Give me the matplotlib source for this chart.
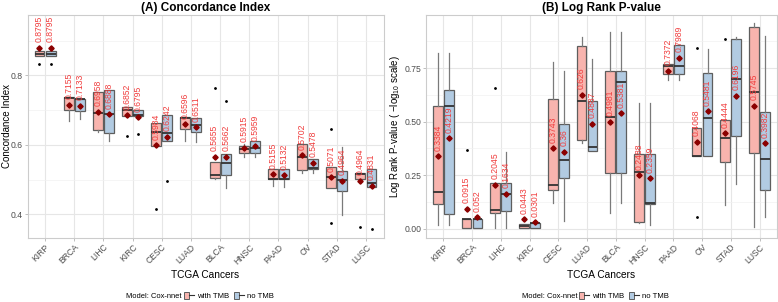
import numpy as np
import matplotlib
matplotlib.use('Agg')
import matplotlib.pyplot as plt
from matplotlib.patches import Patch
from matplotlib.lines import Line2D
from matplotlib.legend_handler import HandlerTuple

plt.rcParams['font.family'] = ['Liberation Sans', 'DejaVu Sans']
plt.rcParams['mathtext.fontset'] = 'custom'
plt.rcParams['mathtext.rm'] = 'Liberation Sans'
plt.rcParams['mathtext.it'] = 'Liberation Sans:italic'

cancers = ['KIRP', 'BRCA', 'LIHC', 'KIRC', 'CESC', 'LUAD', 'BLCA', 'HNSC', 'PAAD', 'OV', 'STAD', 'LUSC']

# ---- Panel A: Concordance index ----
ci_tmb_q1 = [0.856, 0.701, 0.642, 0.683, 0.598, 0.647, 0.504, 0.578, 0.501, 0.527, 0.476, 0.503]
ci_tmb_med = [0.862, 0.735, 0.691, 0.701, 0.6365, 0.678, 0.5125, 0.5875, 0.501, 0.5645, 0.507, 0.5155]
ci_tmb_q3 = [0.869, 0.7365, 0.752, 0.710, 0.6625, 0.680, 0.551, 0.597, 0.530, 0.602, 0.5365, 0.519]
ci_tmb_lo = [0.856, 0.669, 0.638, 0.683, 0.598, 0.610, 0.502, 0.566, 0.483, 0.519, 0.476, 0.503]
ci_tmb_hi = [0.869, 0.7365, 0.752, 0.710, 0.6625, 0.680, 0.551, 0.602, 0.530, 0.602, 0.5365, 0.519]
ci_tmb_mean = [0.8795, 0.7155, 0.6958, 0.6852, 0.5984, 0.6596, 0.5655, 0.5915, 0.5155, 0.5702, 0.5071, 0.4964]
ci_tmb_out = [[0.833], [], [], [0.627], [0.415], [], [0.7635], [], [], [], [0.646, 0.374], [0.365]]

ci_no_q1 = [0.856, 0.698, 0.635, 0.683, 0.610, 0.638, 0.5125, 0.577, 0.501, 0.531, 0.4665, 0.480]
ci_no_med = [0.862, 0.731, 0.690, 0.685, 0.634, 0.656, 0.548, 0.590, 0.501, 0.5335, 0.500, 0.4895]
ci_no_q3 = [0.869, 0.7327, 0.758, 0.700, 0.6865, 0.677, 0.574, 0.6125, 0.530, 0.5585, 0.525, 0.531]
ci_no_lo = [0.856, 0.675, 0.612, 0.683, 0.610, 0.608, 0.477, 0.566, 0.479, 0.520, 0.398, 0.480]
ci_no_hi = [0.869, 0.7327, 0.758, 0.700, 0.6865, 0.677, 0.574, 0.6125, 0.530, 0.5585, 0.595, 0.531]
ci_no_mean = [0.8795, 0.7133, 0.6888, 0.6795, 0.6242, 0.6511, 0.5662, 0.5959, 0.5132, 0.5478, 0.4964, 0.4831]
ci_no_out = [[0.833], [], [], [0.631], [0.497], [], [0.725], [], [], [], [], [0.359]]

# ---- Panel B: Log rank p-value (-log10) ----
lr_tmb_q1 = [0.116, 0.003, 0.071, 0.005, 0.178, 0.412, 0.258, 0.033, 0.723, 0.341, 0.313, 0.351]
lr_tmb_med = [0.173, 0.043, 0.085, 0.014, 0.203, 0.597, 0.5236, 0.264, 0.759, 0.341, 0.4245, 0.638]
lr_tmb_q3 = [0.571, 0.044, 0.212, 0.020, 0.604, 0.854, 0.736, 0.349, 0.769, 0.4685, 0.509, 0.943]
lr_tmb_lo = [0.019, 0.003, 0.003, 0.005, 0.118, 0.400, 0.075, 0.027, 0.692, 0.341, 0.110, 0.009]
lr_tmb_hi = [0.821, 0.044, 0.212, 0.020, 0.780, 0.893, 0.920, 0.585, 0.769, 0.4685, 0.509, 0.959]
lr_tmb_mean = [0.3384, 0.0915, 0.2045, 0.0443, 0.3743, 0.626, 0.4981, 0.2488, 0.7372, 0.4068, 0.4444, 0.5745]
lr_tmb_out = [[], [0.365], [0.657], [], [], [], [], [], [], [0.844, 0.055], [0.884], []]

lr_no_q1 = [0.066, 0.003, 0.083, 0.005, 0.236, 0.362, 0.258, 0.113, 0.723, 0.341, 0.434, 0.182]
lr_no_med = [0.574, 0.043, 0.1635, 0.024, 0.321, 0.3805, 0.687, 0.118, 0.759, 0.519, 0.698, 0.327]
lr_no_q3 = [0.648, 0.044, 0.212, 0.028, 0.487, 0.594, 0.736, 0.349, 0.857, 0.728, 0.888, 0.547]
lr_no_lo = [0.019, 0.003, 0.003, 0.005, 0.035, 0.362, 0.118, 0.019, 0.692, 0.341, 0.2075, 0.052]
lr_no_hi = [0.821, 0.044, 0.357, 0.028, 0.736, 0.794, 0.920, 0.585, 0.857, 0.841, 0.896, 0.899]
lr_no_mean = [0.4219, 0.052, 0.1634, 0.0301, 0.36, 0.4887, 0.5381, 0.2359, 0.7989, 0.5481, 0.6196, 0.3982]
lr_no_out = [[], [], [], [], [], [], [], [], [], [], [], []]

RED = '#F8B4AE'
BLUE = '#B2CBE2'
EDGE = '#5E5E5E'
LABEL_RED = '#F03C3C'
MEAN_COL = '#8B0000'
TICK_COL = '#4D4D4D'


def make_stats(q1, med, q3, lo, hi, out):
    return [dict(q1=a, med=b, q3=c, whislo=d, whishi=e, fliers=f)
            for a, b, c, d, e, f in zip(q1, med, q3, lo, hi, out)]


def draw_group(ax, stats, means, offset, color):
    pos = np.arange(len(cancers)) + offset
    ax.bxp(stats, positions=pos, widths=0.34, patch_artist=True, showcaps=False,
           manage_ticks=False,
           boxprops=dict(facecolor=color, edgecolor=EDGE, linewidth=0.9),
           whiskerprops=dict(color='#7A7A7A', linewidth=0.9),
           medianprops=dict(color='#333333', linewidth=1.3),
           flierprops=dict(marker='o', markersize=1.0, markerfacecolor='black',
                           markeredgecolor='black', linestyle='none'))
    ax.plot(pos, means, linestyle='none', marker='D', color=MEAN_COL, markersize=2.7, zorder=5)
    for x, m in zip(pos, means):
        ax.annotate(f'{m:g}', (x, m), xytext=(0, 4), textcoords='offset points',
                    rotation=90, ha='center', va='bottom', color=LABEL_RED,
                    fontsize=6.2, zorder=6)


def style(ax, ylim, major, minor, ticklabels):
    ax.set_xlim(-0.6, len(cancers) - 0.4)
    ax.set_ylim(*ylim)
    ax.set_yticks(major)
    ax.set_yticklabels(ticklabels)
    ax.set_yticks(minor, minor=True)
    ax.set_xticks(np.arange(len(cancers)))
    ax.set_xticklabels(cancers, rotation=45, ha='right', rotation_mode='anchor')
    ax.set_axisbelow(True)
    ax.grid(which='major', color='#E6E6E6', linewidth=0.8)
    ax.grid(which='minor', axis='y', color='#F1F1F1', linewidth=0.5)
    ax.tick_params(which='major', colors='#B3B3B3', labelcolor=TICK_COL, labelsize=6.2,
                   length=2.0, width=0.6, pad=1.2)
    ax.tick_params(which='minor', length=0)
    for s in ax.spines.values():
        s.set_color('#CCCCCC')
        s.set_linewidth(0.8)
    ax.set_xlabel('TCGA Cancers', fontsize=7.3, labelpad=3)


fig = plt.figure(figsize=(7.78, 3.02), dpi=100)
axA = fig.add_axes([27.5 / 778, 64 / 302, 356 / 778, 223 / 302])
axB = fig.add_axes([426 / 778, 64 / 302, 350.8 / 778, 223 / 302])

draw_group(axA, make_stats(ci_tmb_q1, ci_tmb_med, ci_tmb_q3, ci_tmb_lo, ci_tmb_hi, ci_tmb_out),
           ci_tmb_mean, -0.19, RED)
draw_group(axA, make_stats(ci_no_q1, ci_no_med, ci_no_q3, ci_no_lo, ci_no_hi, ci_no_out),
           ci_no_mean, 0.19, BLUE)
style(axA, (0.332, 0.974), [0.4, 0.6, 0.8], [0.5, 0.7, 0.9], ['0.4', '0.6', '0.8'])
axA.set_ylabel('Concordance Index', fontsize=7.0, va='center')
axA.yaxis.set_label_coords((6.5 - 27.5) / 356, 0.5)
axA.set_title('(A) Concordance Index', fontweight='bold', fontsize=8.5, pad=3)

draw_group(axB, make_stats(lr_tmb_q1, lr_tmb_med, lr_tmb_q3, lr_tmb_lo, lr_tmb_hi, lr_tmb_out),
           lr_tmb_mean, -0.19, RED)
draw_group(axB, make_stats(lr_no_q1, lr_no_med, lr_no_q3, lr_no_lo, lr_no_hi, lr_no_out),
           lr_no_mean, 0.19, BLUE)
style(axB, (-0.044, 0.998), [0.0, 0.25, 0.5, 0.75], [0.125, 0.375, 0.625, 0.875],
      ['0.00', '0.25', '0.50', '0.75'])
axB.set_ylabel(r'Log Rank P-value ( $-\mathrm{log}_{10}$ scale)', fontsize=7.0, va='center')
axB.yaxis.set_label_coords((395 - 426) / 350.8, 0.5)
axB.set_title('(B) Log Rank P-value', fontweight='bold', fontsize=8.5, pad=3)

# legends
for ax, xtext in ((axA, 181.5), (axB, 577)):
    h_red = (Patch(facecolor=RED, edgecolor=EDGE, linewidth=0.7),
             Line2D([], [], color='#333333', linewidth=0.8))
    h_blue = (Patch(facecolor=BLUE, edgecolor=EDGE, linewidth=0.7),
              Line2D([], [], color='#333333', linewidth=0.8))
    fig.text(xtext / 778, 6 / 302, 'Model: Cox-nnet', ha='right', va='center', fontsize=5.4)
    fig.legend([h_red, h_blue], ['with TMB', 'no TMB'], ncol=2, loc='center left',
               bbox_to_anchor=((xtext + 2) / 778, 6 / 302), frameon=False, fontsize=5.6,
               handler_map={tuple: HandlerTuple(ndivide=None)},
               handlelength=1.3, handleheight=0.9, handletextpad=0.4, columnspacing=0.6,
               borderpad=0, borderaxespad=0)

fig.savefig('out.png', dpi=100)
